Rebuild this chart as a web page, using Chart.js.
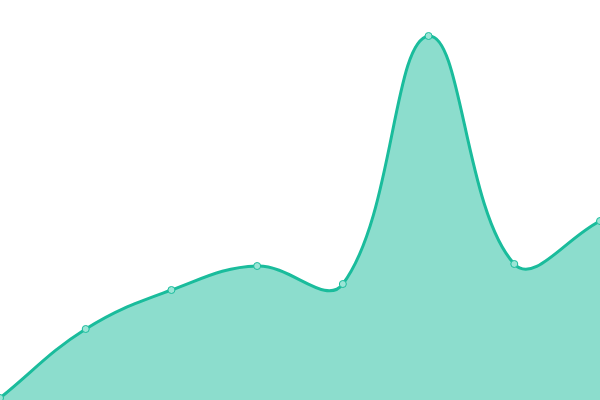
<!DOCTYPE html>
<html><head><meta charset="utf-8">
<script src="https://cdn.jsdelivr.net/npm/chart.js@4"></script>
<style>html,body{margin:0;padding:0;background:#fff}#wrap{width:600px;height:400px}</style>
</head><body><div id="wrap"><canvas id="c"></canvas></div>
<script>
const labels = ["1","2","3","4","5","6","7","8"];
const values = [0.5, 17.75, 27.5, 33.5, 29, 91, 34, 44.75];
new Chart(document.getElementById('c'), {
  type: 'line',
  data: { labels: labels, datasets: [{
    data: values,
    borderColor: '#1abc9c',
    backgroundColor: 'rgba(26,188,156,0.5)',
    pointBackgroundColor: '#9be5d6',
    pointBorderColor: '#1abc9c',
    pointRadius: 3.5,
    pointBorderWidth: 1,
    borderWidth: 3,
    fill: true,
    tension: 0.4
  }]},
  options: {
    responsive: true, maintainAspectRatio: false, animation: false,
    layout: { padding: 0, autoPadding: false },
    plugins: { legend: { display: false }, tooltip: { enabled: false } },
    scales: {
      x: { display: false, offset: false },
      y: { display: false, min: 0, max: 100 }
    }
  }
});
</script></body></html>
